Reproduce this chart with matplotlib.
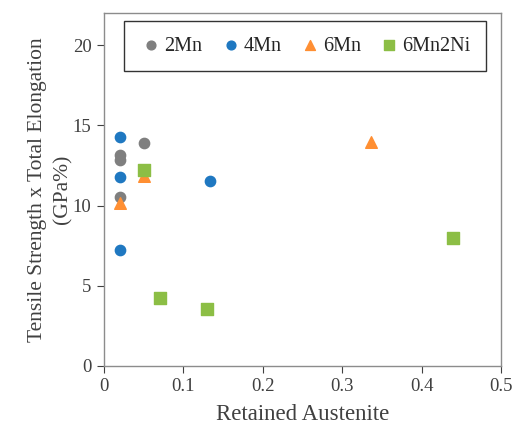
import matplotlib.pyplot as plt

# --- DATA ---
mn2_x = [0.02, 0.02, 0.02, 0.05]
mn2_y = [13.15, 12.85, 10.5, 13.9]

mn4_x = [0.02, 0.02, 0.02, 0.133]
mn4_y = [14.25, 11.8, 7.2, 11.5]

mn6_x = [0.02, 0.05, 0.336]
mn6_y = [10.15, 11.85, 13.95]

mn6ni_x = [0.05, 0.07, 0.13, 0.44]
mn6ni_y = [12.2, 4.25, 3.55, 7.95]

x_ticks = [0, 0.1, 0.2, 0.3, 0.4, 0.5]
x_tick_labels = ["0", "0.1", "0.2", "0.3", "0.4", "0.5"]
y_ticks = [0, 5, 10, 15, 20]

plt.rcParams['font.family'] = ['Liberation Serif', 'DejaVu Serif']

fig = plt.figure(figsize=(5.14, 4.29), dpi=100)
ax = fig.add_axes([0.2023, 0.1476, 0.7724, 0.8214])

ax.scatter(mn2_x, mn2_y, s=55, marker='o', color='#7f7f7f', label='2Mn', zorder=3)
ax.scatter(mn4_x, mn4_y, s=55, marker='o', color='#1f78c1', label='4Mn', zorder=3)
ax.scatter(mn6_x, mn6_y, s=70, marker='^', color='#ff8f33', label='6Mn', zorder=3)
ax.scatter(mn6ni_x, mn6ni_y, s=75, marker='s', color='#8cbe45', label='6Mn2Ni', zorder=3)

ax.set_xlim(0, 0.5)
ax.set_ylim(0, 22)
ax.set_xticks(x_ticks)
ax.set_xticklabels(x_tick_labels)
ax.set_yticks(y_ticks)

for sp in ax.spines.values():
    sp.set_color('#8c8c8c')
    sp.set_linewidth(1.0)
ax.tick_params(direction='out', length=5, color='#404040', labelcolor='#404040',
               labelsize=13.5, pad=4)

ax.set_xlabel("Retained Austenite", fontsize=16.5, color='#404040', labelpad=6)
ax.set_ylabel("Tensile Strength x Total Elongation\n(GPa%)", fontsize=15.5,
              color='#404040', labelpad=0, linespacing=1.45)

leg = ax.legend(loc='upper center', bbox_to_anchor=(0.506, 0.977), ncol=4,
                frameon=True, fancybox=False, edgecolor='black', fontsize=14.5,
                handletextpad=0.05, columnspacing=0.8, borderpad=0.75,
                borderaxespad=0, handlelength=1.2, markerscale=0.85)
leg.get_frame().set_linewidth(1.0)
for t in leg.get_texts():
    t.set_color('#262626')

plt.savefig("out.png", dpi=100)
plt.close()
